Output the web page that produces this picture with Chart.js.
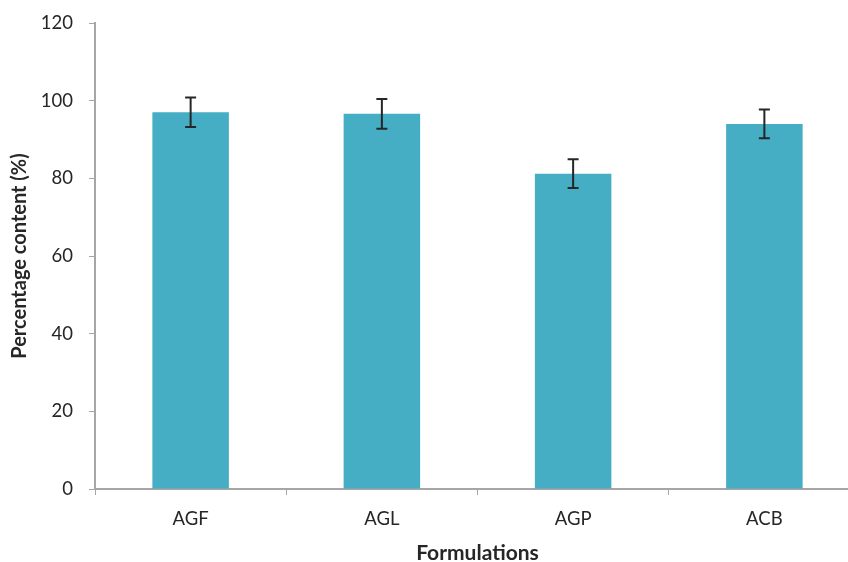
<!DOCTYPE html>
<html lang="en">
<head>
    <meta charset="UTF-8">
    <title>Percentage content by formulation</title>
    <script src="https://cdn.jsdelivr.net/npm/chart.js"></script>
    <style>
        html, body { margin: 0; padding: 0; background: #fff; overflow: hidden; }
        #contentChart { display: block; }
    </style>
</head>
<body>
    <canvas id="contentChart" width="860" height="566"></canvas>

    <script>
    // Content values and standard deviations per formulation
    const formulations = ['AGF', 'AGL', 'AGP', 'ACB'];
    const contentPct = [97.0, 96.6, 81.2, 94.0];
    const contentSd = [3.8, 3.8, 3.7, 3.7];
    const yTicks = [0, 20, 40, 60, 80, 100, 120];

    const axisGray = '#a6a6a6';
    const textColor = '#262626';
    const fontFamily = 'Lato, "Open Sans", sans-serif';

    // draws the +/- SD whiskers on top of each bar
    const errorBars = {
        id: 'errorBars',
        afterDatasetsDraw(chart) {
            const ctx = chart.ctx;
            const y = chart.scales.y;
            const meta = chart.getDatasetMeta(0);
            ctx.save();
            ctx.strokeStyle = textColor;
            ctx.lineWidth = 2;
            meta.data.forEach((bar, i) => {
                const top = y.getPixelForValue(contentPct[i] + contentSd[i]);
                const bottom = y.getPixelForValue(contentPct[i] - contentSd[i]);
                const cap = 5.5;
                ctx.beginPath();
                ctx.moveTo(bar.x, top);
                ctx.lineTo(bar.x, bottom);
                ctx.moveTo(bar.x - cap, top);
                ctx.lineTo(bar.x + cap, top);
                ctx.moveTo(bar.x - cap, bottom);
                ctx.lineTo(bar.x + cap, bottom);
                ctx.stroke();
            });
            ctx.restore();
        }
    };

    const ctx = document.getElementById('contentChart').getContext('2d');
    new Chart(ctx, {
        type: 'bar',
        data: {
            labels: formulations,
            datasets: [{
                data: contentPct,
                backgroundColor: '#45adc4',
                borderWidth: 0,
                categoryPercentage: 1.0,
                barPercentage: 0.4
            }]
        },
        options: {
            responsive: false,
            animation: false,
            layout: { padding: { top: 23, right: 0, left: 0, bottom: 0 } },
            plugins: {
                legend: { display: false },
                tooltip: { enabled: false }
            },
            scales: {
                x: {
                    grid: {
                        display: true,
                        drawOnChartArea: false,
                        drawTicks: true,
                        tickLength: 6,
                        color: axisGray,
                        offset: true
                    },
                    border: { color: axisGray, width: 2 },
                    ticks: {
                        color: textColor,
                        font: { family: fontFamily, size: 18.5 },
                        padding: 13
                    },
                    title: {
                        display: true,
                        text: 'Formulations',
                        color: textColor,
                        font: { family: fontFamily, size: 21, weight: 'bold' },
                        padding: { top: 0, bottom: 0 }
                    },
                    afterFit(scale) {
                        scale.height = 77;
                        scale.paddingLeft = 0;
                        scale.paddingRight = 0;
                    }
                },
                y: {
                    min: 0,
                    max: 120,
                    afterBuildTicks(scale) {
                        scale.ticks = yTicks.map(v => ({ value: v }));
                    },
                    grid: {
                        display: true,
                        drawOnChartArea: false,
                        drawTicks: true,
                        tickLength: 6,
                        color: axisGray
                    },
                    border: { color: axisGray, width: 2 },
                    ticks: {
                        color: textColor,
                        font: { family: fontFamily, size: 18.5 },
                        padding: 16
                    },
                    title: {
                        display: true,
                        text: 'Percentage content (%)',
                        color: textColor,
                        font: { family: fontFamily, size: 20, weight: 'bold' },
                        padding: { top: 8, bottom: 0 }
                    },
                    afterFit(scale) {
                        scale.width = 95;
                        scale.paddingTop = 0;
                        scale.paddingBottom = 0;
                    }
                }
            }
        },
        plugins: [errorBars]
    });
    </script>
</body>
</html>
